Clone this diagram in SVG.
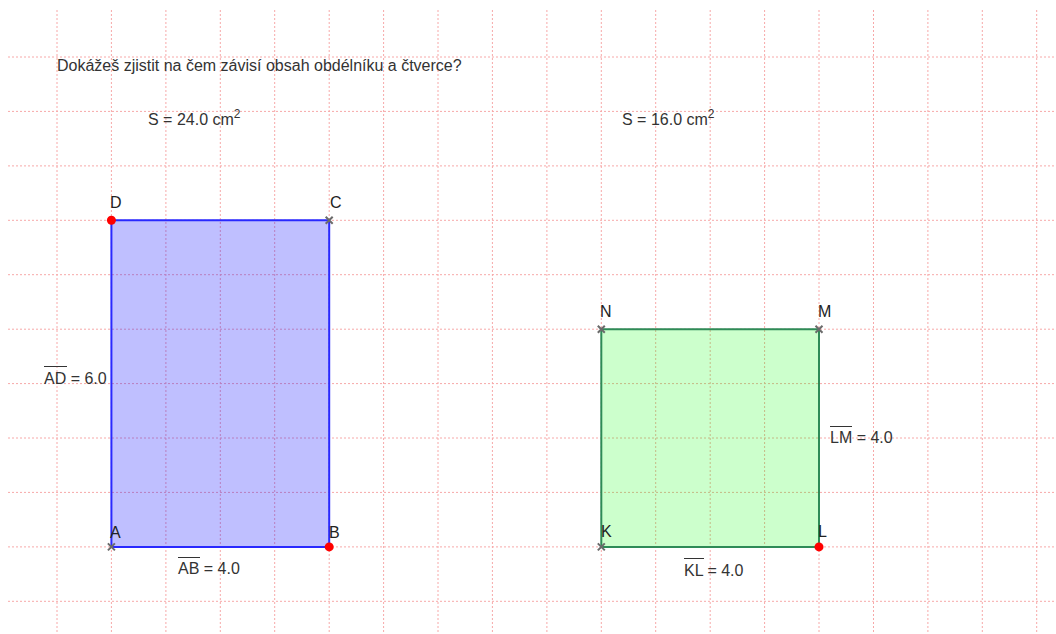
<svg xmlns="http://www.w3.org/2000/svg" width="1056" height="634" viewBox="0 0 1056 634">
<style>
.g{stroke:#f7a8a8;stroke-width:1;stroke-dasharray:2,2;fill:none}
.t{font-family:"Liberation Sans",Arial,sans-serif;font-size:16px;fill:#333}
.lb{font-family:"Liberation Sans",Arial,sans-serif;font-size:16px;fill:#222}
.ov{stroke:#333;stroke-width:1}
.x{stroke:#6b6b6b;stroke-width:2}
.dot{fill:#ff0000}
</style>
<rect width="1056" height="634" fill="#ffffff"/>
<g id="grid">
<path class="g" d="M57,10V634M111.4,10V634M165.9,10V634M220.3,10V634M274.7,10V634M329.2,10V634M383.6,10V634M438,10V634M492.4,10V634M546.9,10V634M601.3,10V634M655.7,10V634M710.2,10V634M764.6,10V634M819,10V634M873.5,10V634M927.9,10V634M982.3,10V634M1036.7,10V634"/>
<path class="g" d="M8,57H1056M8,111.4H1056M8,165.9H1056M8,220.3H1056M8,274.7H1056M8,329.2H1056M8,383.6H1056M8,438H1056M8,492.4H1056M8,546.9H1056M8,601.3H1056"/>
</g>
<text class="t" x="57" y="71">Dokážeš zjistit na čem závisí obsah obdélníku a čtverce?</text>
<text class="t" x="148" y="125">S = 24.0 cm<tspan font-size="12" dy="-7">2</tspan></text>
<text class="t" x="622" y="125">S = 16.0 cm<tspan font-size="12" dy="-7">2</tspan></text>
<g id="rect-ABCD">
<polygon points="111.4,546.9 329.2,546.9 329.2,220.3 111.4,220.3" fill="#0000ff" fill-opacity="0.25" stroke="#2929ff" stroke-width="2"/>
</g>
<g id="square-KLMN">
<polygon points="601.3,546.9 819,546.9 819,329.2 601.3,329.2" fill="#00ff00" fill-opacity="0.2" stroke="#2e8b57" stroke-width="2"/>
</g>
<g id="connectors"></g>
<g id="labels">
<text class="t" x="44" y="384">AD = 6.0</text>
<line class="ov" x1="44" y1="366.5" x2="67" y2="366.5"/>
<text class="t" x="178" y="574">AB = 4.0</text>
<line class="ov" x1="178" y1="557.5" x2="200" y2="557.5"/>
<text class="t" x="830" y="443">LM = 4.0</text>
<line class="ov" x1="830" y1="426.5" x2="852" y2="426.5"/>
<text class="t" x="684" y="576">KL = 4.0</text>
<line class="ov" x1="684" y1="558.5" x2="704" y2="558.5"/>
</g>
<g id="point-D"><circle class="dot" cx="111.4" cy="220.3" r="4.5"/><text class="lb" x="110" y="208">D</text></g>
<g id="point-C"><path class="x" d="M325.7,216.8l7,7M332.7,216.8l-7,7"/><text class="lb" x="330" y="208">C</text></g>
<g id="point-A"><path class="x" d="M107.9,543.4l7,7M114.9,543.4l-7,7"/><text class="lb" x="110" y="538">A</text></g>
<g id="point-B"><circle class="dot" cx="329.2" cy="546.9" r="4.5"/><text class="lb" x="329" y="538">B</text></g>
<g id="point-N"><path class="x" d="M597.8,325.7l7,7M604.8,325.7l-7,7"/><text class="lb" x="600" y="317">N</text></g>
<g id="point-M"><path class="x" d="M815.5,325.7l7,7M822.5,325.7l-7,7"/><text class="lb" x="818" y="317">M</text></g>
<g id="point-K"><path class="x" d="M597.8,543.4l7,7M604.8,543.4l-7,7"/><text class="lb" x="601" y="537">K</text></g>
<g id="point-L"><circle class="dot" cx="819" cy="546.9" r="4.5"/><text class="lb" x="818" y="537">L</text></g>
</svg>
